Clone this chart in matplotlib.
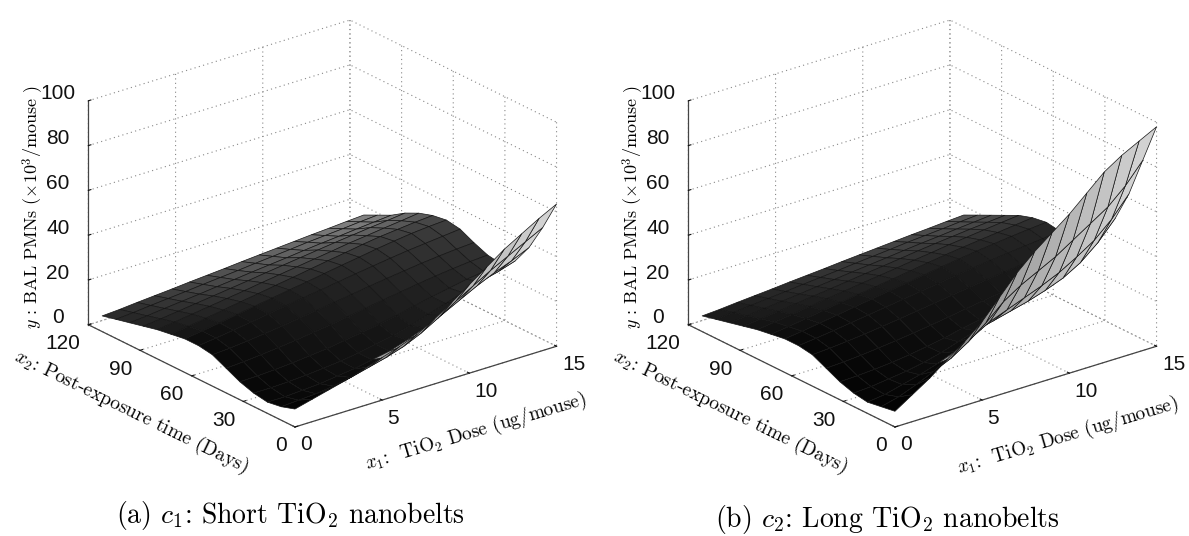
import numpy as np
import matplotlib
matplotlib.use('Agg')
import matplotlib.pyplot as plt

plt.rcParams['mathtext.fontset'] = 'cm'
plt.rcParams['axes.unicode_minus'] = False

# Dose (columns) and time (rows) of the surface grid
dose = [0, 1, 2, 3, 4, 5, 6, 7, 8, 9, 10, 11, 12, 13, 14, 15]
days = [0, 8, 16, 24, 32, 40, 48, 56, 64, 72, 80, 88, 96, 104, 112]

# One row per entry in days
short_pmn = [
    [8, 10, 12, 14, 16.5, 19, 21.5, 24.5, 29, 34, 39.5, 45, 50.5, 55, 59.5, 63.5],
    [6, 6.5, 7, 8, 9.5, 11.5, 13.5, 16, 19.5, 24, 29, 33.5, 38, 42, 46, 50],
    [5, 5, 5.5, 6, 7, 8, 9.5, 11, 13.5, 16.5, 20, 24, 28, 31.5, 34.5, 38],
    [6, 6, 6.3, 6.8, 7.5, 8.3, 9.5, 11, 12.5, 14.5, 17, 19.5, 22, 24.5, 26.5, 29],
    [8, 8.2, 8.6, 9.2, 10, 10.8, 12, 13.2, 14.5, 16, 17.8, 19.5, 21, 22.5, 23.5, 24.5],
    [11, 11.5, 12.2, 13, 13.9, 15, 16, 17.2, 18.5, 19.8, 21, 22.2, 23.3, 24.2, 25, 25.5],
    [14, 14.5, 15.3, 16.2, 17.2, 18.3, 19.4, 20.5, 21.7, 22.9, 24, 25, 26, 26.8, 27.5, 28],
    [15, 16, 17.1, 18.3, 19.5, 20.7, 21.9, 23, 24.2, 25.4, 26.5, 27.6, 28.6, 29.4, 30.2, 31],
    [15, 16.1, 17.3, 18.6, 19.9, 21.1, 22.4, 23.6, 24.9, 26.2, 27.4, 28.7, 29.8, 30.8, 31.5, 32],
    [14, 15.1, 16.3, 17.6, 18.9, 20.1, 21.4, 22.6, 23.9, 25.2, 26.4, 27.7, 28.8, 29.6, 30.4, 31],
    [13, 14, 15.1, 16.2, 17.3, 18.4, 19.6, 20.7, 21.8, 22.9, 24, 25.2, 26.1, 27.1, 28, 29],
    [11.5, 12.4, 13.4, 14.4, 15.4, 16.4, 17.4, 18.5, 19.5, 20.5, 21.5, 22.5, 23.4, 24.3, 25.1, 26],
    [10, 10.7, 11.6, 12.4, 13.2, 14.1, 14.9, 15.8, 16.6, 17.4, 18.3, 19.1, 19.8, 20.6, 21.3, 22],
    [8.5, 9.1, 9.9, 10.6, 11.3, 12.1, 12.8, 13.5, 14.3, 15, 15.7, 16.5, 17.1, 17.7, 18.4, 19],
    [7, 7.5, 8.2, 8.8, 9.4, 10.1, 10.7, 11.3, 12, 12.6, 13.2, 13.8, 14.4, 14.9, 15.5, 16],
]
long_pmn = [
    [7, 12, 17, 23, 28.5, 35, 43.5, 52, 59, 65, 71, 78, 85, 90, 94, 98],
    [6, 8, 11, 14.5, 18, 23, 29, 36, 41, 45, 49, 54, 59, 64, 71, 80],
    [5, 6, 8, 10, 12.5, 15.5, 19.5, 24, 27, 30, 33, 36.5, 41, 46, 53, 62],
    [6, 6.5, 7.5, 8.5, 10, 12, 14.5, 17, 19, 21, 23, 25.5, 28.5, 33, 39.5, 48],
    [8, 8.3, 8.8, 9.5, 10.5, 11.8, 13.2, 15, 16.5, 18, 19.5, 21.5, 23.5, 26.5, 31, 37],
    [11, 11.4, 12, 12.8, 13.7, 14.7, 15.8, 17, 18.3, 19.5, 20.7, 21.9, 23, 24.5, 26.5, 29],
    [14, 14.5, 15.2, 16, 17, 18, 19.1, 20.2, 21.3, 22.4, 23.4, 24.4, 25.3, 26.2, 27.1, 28],
    [15, 15.9, 16.9, 18, 19.1, 20.2, 21.3, 22.4, 23.5, 24.6, 25.6, 26.6, 27.5, 28.3, 29.1, 30],
    [15, 16, 17.2, 18.4, 19.6, 20.8, 22, 23.1, 24.3, 25.5, 26.6, 27.7, 28.6, 29.5, 30.3, 31],
    [14, 15, 16.2, 17.4, 18.6, 19.7, 20.8, 21.9, 23.1, 24.3, 25.4, 26.4, 27.3, 28.2, 29.1, 30],
    [13, 14, 15, 16.1, 17.2, 18.2, 19.3, 20.3, 21.3, 22.4, 23.4, 24.5, 25.4, 26.3, 27.2, 28],
    [11.5, 12.4, 13.3, 14.3, 15.3, 16.2, 17.2, 18.2, 19.1, 20.1, 21.1, 22, 22.8, 23.6, 24.3, 25],
    [10, 10.7, 11.6, 12.4, 13.2, 14.1, 14.9, 15.8, 16.6, 17.4, 18.3, 19.1, 19.8, 20.6, 21.3, 22],
    [8.5, 9.1, 9.9, 10.6, 11.3, 12.1, 12.8, 13.5, 14.3, 15, 15.7, 16.5, 17.1, 17.7, 18.4, 19],
    [7, 7.5, 8.2, 8.8, 9.4, 10.1, 10.7, 11.3, 12, 12.6, 13.2, 13.8, 14.4, 14.9, 15.5, 16],
]

xticks = [0, 5, 10, 15]
tticks = [0, 30, 60, 90, 120]
zticks = [0, 20, 40, 60, 80, 100]

Z_ASPECT = 0.73
ELEV = 23
AZIM = -128.3
DOTS = (0, (1, 3))


# grey level of every cell: top side dark, underside seen from the camera light
def shade(z, gain):
    dzdt, dzdx = np.gradient(z, np.array(days) / 120.0, np.array(dose) / 15.0)
    dzdt = dzdt * Z_ASPECT / 100.0
    dzdx = dzdx * Z_ASPECT / 100.0
    el, az = np.radians(ELEV), np.radians(AZIM)
    facing = -dzdx * np.cos(el) * np.cos(az) - dzdt * np.cos(el) * np.sin(az) + np.sin(el)
    X = np.array(dose)[None, :] / 15.0
    T = np.array(days)[:, None] / 112.0
    top = gain * (0.015 + 0.09 * T + 0.3 * X * T**0.7 + 0.35 * np.clip(-dzdt, -0.1, 0.5) * T)
    under = 0.45 + 0.4 * X
    level = np.where(facing < 0.08, under, np.clip(top, 0.0, 0.5))
    return np.dstack([level, level, level, np.ones_like(level)])


def draw_panel(left, values, gain):
    ax = fig.add_axes([left, 0.0896, 515 / 1189, 515 / 536], projection='3d', proj_type='ortho')
    ax.patch.set_alpha(0)
    ax.view_init(elev=ELEV, azim=AZIM)
    ax.set_box_aspect((1, 1, Z_ASPECT))
    X, T = np.meshgrid(dose, days)
    Z = np.array(values, dtype=float)
    ax.plot_surface(X, T, Z, rstride=1, cstride=1, facecolors=shade(Z, gain),
                    edgecolor='#151515', linewidth=0.5, shade=False, antialiased=True)
    ax.set_xlim(0, 15)
    ax.set_ylim(0, 120)
    ax.set_zlim(0, 100)
    ax.set_xticks(xticks)
    ax.set_yticks(tticks)
    ax.set_zticks(zticks)
    for axis in (ax.xaxis, ax.yaxis, ax.zaxis):
        axis.set_pane_color((1, 1, 1, 0))
        axis.pane.set_edgecolor('#888888')
        axis.pane.set_linestyle(DOTS)
        axis.pane.set_linewidth(0.8)
        axis._axinfo['grid'].update(color='#888888', linestyle=DOTS, linewidth=0.8)
        axis._axinfo['tick'].update(inward_factor=0.0, outward_factor=0.12)
        axis.line.set_color('#444444')
        axis.line.set_linewidth(0.9)
    ax.tick_params(axis='both', labelsize=15, colors='#111111')
    ax.tick_params(axis='x', pad=-3)
    ax.tick_params(axis='y', pad=-2)
    ax.tick_params(axis='z', pad=4.5)
    ax.zaxis.set_ticks_position('upper')
    for lab in ax.get_xticklabels() + ax.get_yticklabels() + ax.get_zticklabels():
        lab.set_family('Liberation Sans')
    for lab in ax.get_xticklabels():
        lab.set_ha('left')
    for lab in ax.get_yticklabels():
        lab.set_ha('right')
    for lab in ax.get_zticklabels():
        lab.set_va('baseline')
    return ax


def label(px, py, text, angle, size):
    fig.text(px / 1189, 1 - py / 536, text, family='cmr10', fontsize=size, rotation=angle,
             rotation_mode='anchor', ha='center', va='center')


fig = plt.figure(figsize=(11.89, 5.36), dpi=100)
draw_panel(58 / 1189, short_pmn, 1.1)
draw_panel(658 / 1189, long_pmn, 0.7)

dose_text = r'$x_1$:  TiO$_2$ Dose (ug/mouse)'
time_text = r'$x_2$: Post-exposure time (Days)'
pmn_text = r'$y$ : BAL PMNs ($\times 10^3$/mouse )'
label(476, 432, dose_text, 16.5, 13.8)
label(131, 412, time_text, -26, 14)
label(33, 207, pmn_text, 90, 13)
label(1068, 436, dose_text, 16.5, 13.8)
label(730, 412, time_text, -26, 14)
label(633, 207, pmn_text, 90, 13)

label(290, 516, r'(a) $c_1$: Short TiO$_2$ nanobelts', 0, 20)
label(887, 519, r'(b) $c_2$: Long TiO$_2$ nanobelts', 0, 20)
fig.savefig('out.png', dpi=100)
